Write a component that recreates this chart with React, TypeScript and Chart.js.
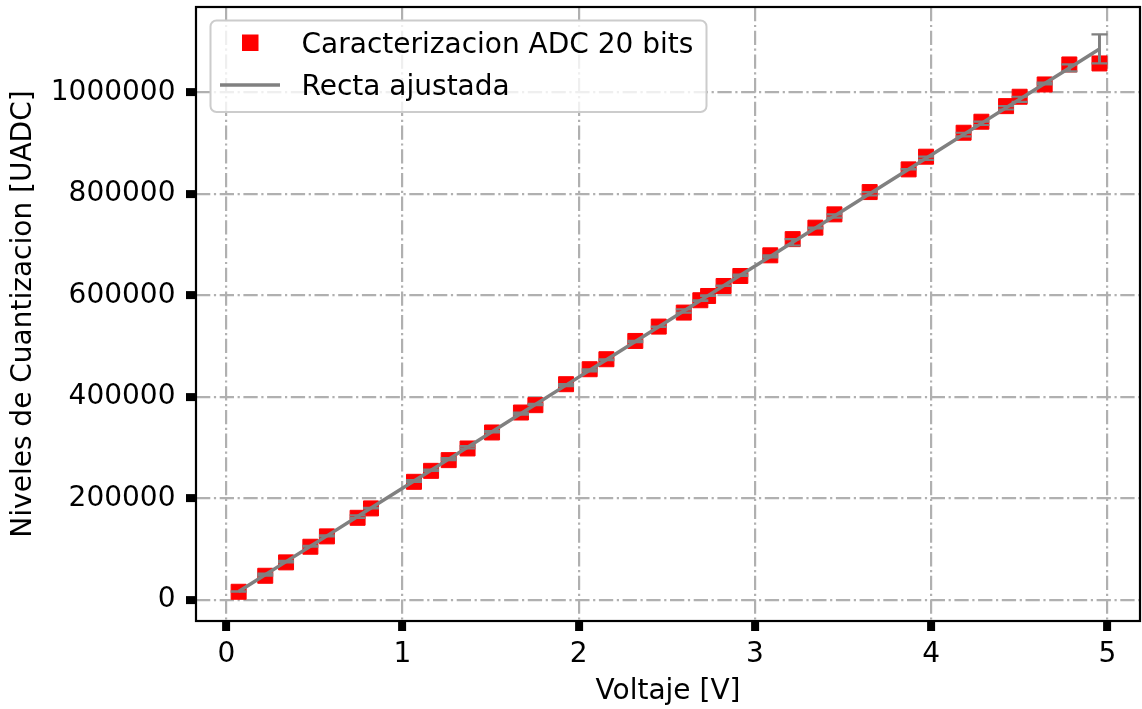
import React, { useEffect, useRef } from "react";
import { Chart, registerables } from "chart.js";

Chart.register(...registerables);

// Measured ADC characterisation: input voltage [V] vs quantisation level [UADC]
const voltage = [
  0.07, 0.221, 0.339, 0.477, 0.571, 0.745, 0.821, 1.065, 1.162, 1.262, 1.369,
  1.508, 1.672, 1.754, 1.928, 2.062, 2.157, 2.321, 2.454, 2.596, 2.69, 2.734,
  2.822, 2.917, 3.087, 3.214, 3.343, 3.451, 3.651, 3.872, 3.971, 4.184, 4.285,
  4.425, 4.502, 4.644, 4.784, 4.955,
];
const levels = [
  16300, 47800, 74200, 105000, 125400, 162000, 180500, 232900, 254500, 275600,
  298600, 330100, 369400, 383900, 425200, 454700, 474400, 510400, 538700,
  566300, 590600, 599000, 618700, 638400, 679100, 711000, 733600, 759800,
  803700, 848400, 873400, 920600, 942300, 973000, 991500, 1015700, 1055100,
  1057100,
];

// Least-squares straight line: levels = fitSlope * voltage + fitIntercept
const fitSlope = 218800;
const fitIntercept = 1500;

const xTicks = [0, 1, 2, 3, 4, 5];
const yTicks = [0, 200000, 400000, 600000, 800000, 1000000];

const xTitle = "Voltaje [V]";
const yTitle = "Niveles de Cuantizacion [UADC]";
const seriesLabel = "Caracterizacion ADC 20 bits";
const fitLabel = "Recta ajustada";

const FONT = "'DejaVu Sans', 'Liberation Sans', sans-serif";
const RED = "#ff0000";
const GRAY = "#808080";
const GRID = "#b0b0b0";
const GRID_DASH = [14.3, 3.6, 2.2, 3.6];

// Residual error bars centred on the fitted line, with caps
const errorBarsPlugin = {
  id: "errorBars",
  afterDatasetsDraw(chart: any) {
    const { ctx, chartArea, scales } = chart;
    const xs = scales.x;
    const ys = scales.y;
    ctx.save();
    ctx.beginPath();
    ctx.rect(chartArea.left, chartArea.top, chartArea.right - chartArea.left, chartArea.bottom - chartArea.top);
    ctx.clip();
    ctx.strokeStyle = GRAY;
    const cap = 8;
    voltage.forEach((v, i) => {
      const fit = fitSlope * v + fitIntercept;
      const r = Math.abs(levels[i] - fit);
      const px = xs.getPixelForValue(v);
      const pTop = ys.getPixelForValue(fit + r);
      const pBot = ys.getPixelForValue(fit - r);
      ctx.lineWidth = 3;
      ctx.beginPath();
      ctx.moveTo(px, pTop);
      ctx.lineTo(px, pBot);
      ctx.stroke();
      ctx.lineWidth = 2.2;
      ctx.beginPath();
      ctx.moveTo(px - cap, pTop);
      ctx.lineTo(px + cap, pTop);
      ctx.moveTo(px - cap, pBot);
      ctx.lineTo(px + cap, pBot);
      ctx.stroke();
    });
    ctx.restore();
  },
};

// Full box around the plotting area plus the inset legend
const framePlugin = {
  id: "frameAndLegend",
  afterDraw(chart: any) {
    const { ctx, chartArea } = chart;
    ctx.save();
    ctx.strokeStyle = "#000000";
    ctx.lineWidth = 2.2;
    ctx.strokeRect(chartArea.left, chartArea.top, chartArea.right - chartArea.left, chartArea.bottom - chartArea.top);

    // legend box
    const bx = chartArea.left + 14.5;
    const by = chartArea.top + 13.5;
    const bw = 496;
    const bh = 91.5;
    ctx.beginPath();
    ctx.roundRect(bx, by, bw, bh, 6);
    ctx.fillStyle = "rgba(255,255,255,0.8)";
    ctx.fill();
    ctx.strokeStyle = "#cccccc";
    ctx.lineWidth = 2;
    ctx.stroke();

    const ds = chart.data.datasets;
    // marker entry
    ctx.fillStyle = RED;
    ctx.fillRect(bx + 31.5, by + 14, 16.5, 16.5);
    // line entry
    ctx.strokeStyle = GRAY;
    ctx.lineWidth = 3.5;
    ctx.beginPath();
    ctx.moveTo(bx + 9.5, by + 64.5);
    ctx.lineTo(bx + 69.5, by + 64.5);
    ctx.stroke();

    ctx.fillStyle = "#000000";
    ctx.font = `28px ${FONT}`;
    ctx.textBaseline = "alphabetic";
    ctx.textAlign = "left";
    ctx.fillText(ds[0].label, bx + 91, by + 32.5);
    ctx.fillText(ds[1].label, bx + 91, by + 74.5);
    ctx.restore();
  },
};

export default function App() {
  const canvasRef = useRef<HTMLCanvasElement | null>(null);

  useEffect(() => {
    if (!canvasRef.current) return;
    Chart.defaults.font.family = FONT;

    const scatterData = voltage.map((v, i) => ({ x: v, y: levels[i] }));
    const fitData = voltage.map((v) => ({ x: v, y: fitSlope * v + fitIntercept }));

    const chart = new Chart(canvasRef.current, {
      type: "scatter",
      data: {
        datasets: [
          {
            label: seriesLabel,
            data: scatterData,
            pointStyle: "rect",
            pointRadius: 10.6,
            backgroundColor: RED,
            borderColor: RED,
            borderWidth: 1,
            showLine: false,
            order: 1,
          },
          {
            label: fitLabel,
            data: fitData,
            showLine: true,
            pointRadius: 0,
            borderColor: GRAY,
            borderWidth: 3.5,
            fill: false,
            order: 0,
          } as any,
        ],
      },
      options: {
        responsive: false,
        animation: false,
        events: [],
        layout: { autoPadding: false, padding: { top: 7, right: 2, bottom: 0, left: 0 } },
        plugins: {
          legend: { display: false },
          tooltip: { enabled: false },
        },
        scales: {
          x: {
            type: "linear",
            min: -0.172,
            max: 5.185,
            afterBuildTicks: (s: any) => {
              s.ticks = xTicks.map((value) => ({ value }));
            },
            afterFit: (s: any) => {
              s.height = 88;
              s.paddingLeft = 0;
              s.paddingRight = 0;
              s.paddingTop = 0;
              s.paddingBottom = 0;
            },
            grid: {
              color: GRID,
              lineWidth: 2.2,
              tickColor: "#000000",
              tickWidth: 8,
              tickLength: 10,
              tickBorderDash: [],
            } as any,
            border: { display: false, dash: GRID_DASH },
            ticks: {
              color: "#000000",
              font: { size: 28 },
              padding: 7,
              maxRotation: 0,
              autoSkip: false,
              callback: (v: any) => String(v),
            },
            title: {
              display: true,
              text: xTitle,
              color: "#000000",
              font: { size: 28 },
              padding: { top: 0, bottom: 0 },
            },
          },
          y: {
            type: "linear",
            min: -41300,
            max: 1168300,
            afterBuildTicks: (s: any) => {
              s.ticks = yTicks.map((value) => ({ value }));
            },
            afterFit: (s: any) => {
              s.width = 196;
              s.paddingLeft = 0;
              s.paddingRight = 0;
              s.paddingTop = 0;
              s.paddingBottom = 0;
            },
            grid: {
              color: GRID,
              lineWidth: 2.2,
              tickColor: "#000000",
              tickWidth: 8,
              tickLength: 10,
              tickBorderDash: [],
            } as any,
            border: { display: false, dash: GRID_DASH },
            ticks: {
              color: "#000000",
              font: { size: 28 },
              padding: 10.5,
              autoSkip: false,
              callback: (v: any) => String(v),
            },
            title: {
              display: true,
              text: yTitle,
              color: "#000000",
              font: { size: 28 },
              padding: { top: 6.5, bottom: 0 },
            },
          },
        },
      },
      plugins: [errorBarsPlugin, framePlugin],
    });

    return () => chart.destroy();
  }, []);

  return (
    <div style={{ position: "fixed", left: 0, top: 0, width: 1142, height: 709, background: "#ffffff" }}>
      <canvas ref={canvasRef} width={1142} height={709} style={{ display: "block" }} />
    </div>
  );
}
